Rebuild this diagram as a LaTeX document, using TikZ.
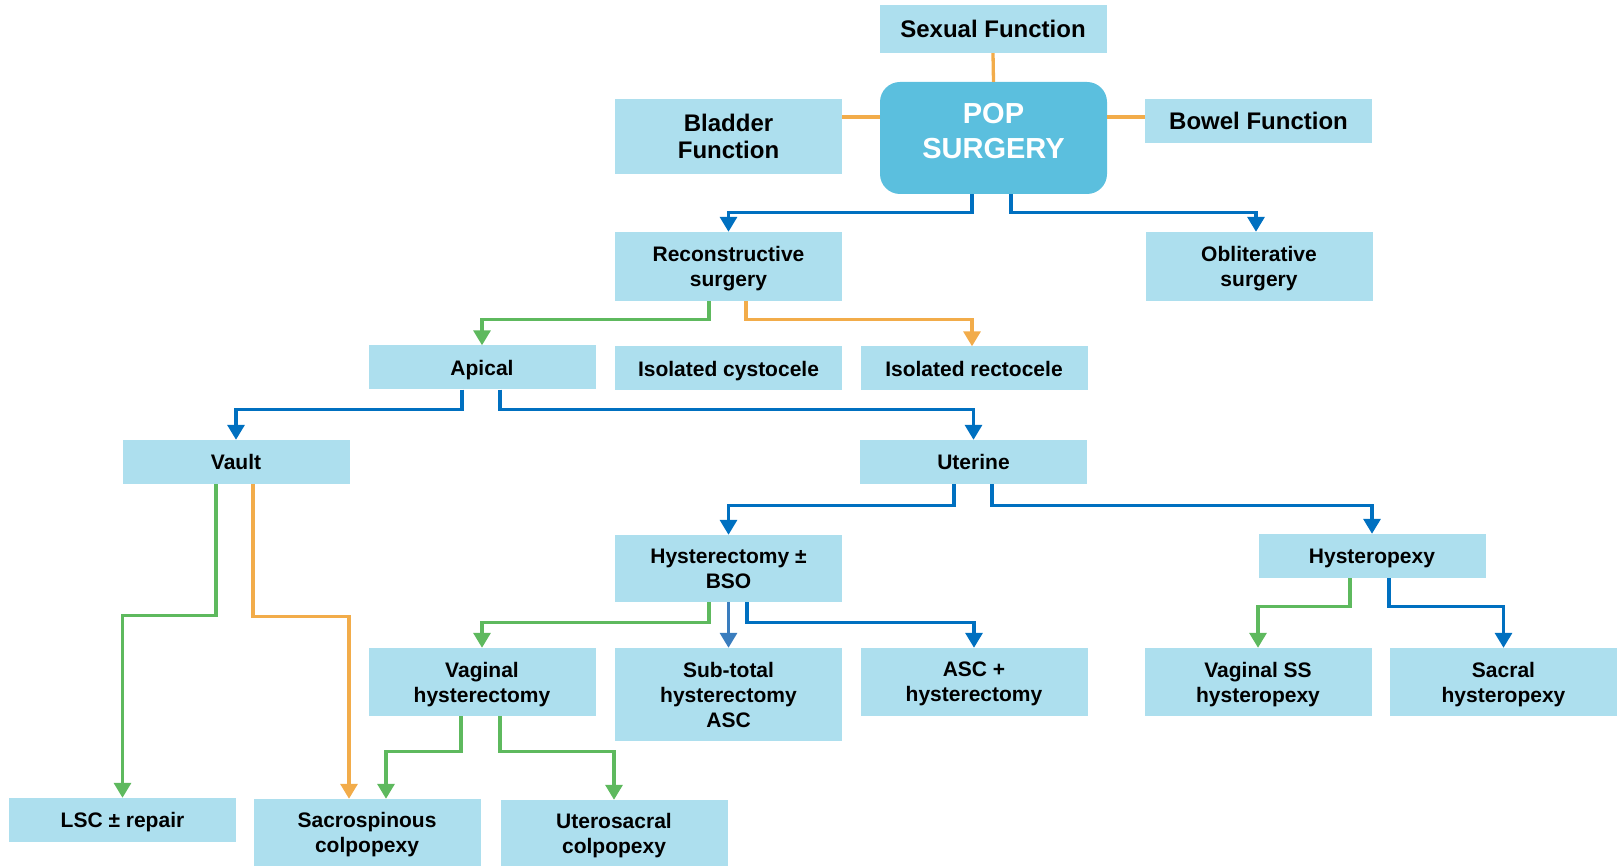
\documentclass[tikz,border=0pt]{standalone}
\usepackage{fontspec}
\setmainfont{Liberation Sans}
\usetikzlibrary{arrows.meta}

\definecolor{boxblue}{HTML}{ADDFEE}
\definecolor{popblue}{HTML}{5BBFDE}
\definecolor{linkblue}{HTML}{0070C0}
\definecolor{linkgreen}{HTML}{5EB95E}
\definecolor{linkorange}{HTML}{F2AC4A}
\definecolor{linksteel}{HTML}{3A7DBE}

\tikzset{
  box/.style={fill=boxblue, minimum width=227pt, minimum height=44pt, inner sep=2pt, text depth=0pt,
    align=center, font=\fontsize{21}{25}\selectfont\bfseries},
  bigbox/.style={box, font=\fontsize{24}{27}\selectfont\bfseries},
  link/.style={line width=3.3pt, -{Triangle[width=17pt,length=15pt]}},
  bluelink/.style={link, linkblue},
  greenlink/.style={link, linkgreen},
  orangelink/.style={link, linkorange},
  steellink/.style={link, linksteel},
  tie/.style={line width=3.3pt, linkorange}
}

\begin{document}
\begin{tikzpicture}[x=1pt, y=-1pt]
      \useasboundingbox (0,0) rectangle (1620,866);
      \node[fill=popblue, rounded corners=20pt, minimum width=227pt, minimum height=112pt, align=center,
        text depth=14pt, text=white, font=\fontsize{29}{35}\selectfont\bfseries] (pop) at (993.5, 138) {POP\\SURGERY};
      \node[bigbox, minimum height=48pt] (sex) at (993, 29) {Sexual Function};
      \node[bigbox, minimum height=75pt] (blad) at (728.5, 136.5) {Bladder\\Function};
      \node[bigbox] (bowel) at (1258.5, 121) {Bowel Function};
      \node[box, minimum height=69pt] (recon) at (728.5, 266.5) {Reconstructive\\surgery};
      \node[box, minimum height=69pt] (oblit) at (1259, 266.5) {Obliterative\\surgery};
      \node[box] (apical) at (482, 367.5) {Apical};
      \node[box] (cysto) at (728.5, 368.5) {Isolated cystocele};
      \node[box] (recto) at (974, 368.5) {Isolated rectocele};
      \node[box] (vault) at (236, 462) {Vault};
      \node[box] (uter) at (973.5, 462) {Uterine};
      \node[box, minimum height=67pt] (hyst) at (728.5, 568.5) {Hysterectomy ±\\BSO};
      \node[box] (hpexy) at (1372, 556) {Hysteropexy};
      \node[box, minimum height=68pt] (vhyst) at (482, 682) {Vaginal\\hysterectomy};
      \node[box, minimum height=93pt] (subt) at (728.5, 694.5) {Sub-total\\hysterectomy\\ASC};
      \node[box, minimum height=68pt] (ascp) at (974, 682) {ASC +\\hysterectomy};
      \node[box, minimum height=68pt] (vss) at (1258, 682) {Vaginal SS\\hysteropexy};
      \node[box, minimum height=68pt] (sacr) at (1503.5, 682) {Sacral\\hysteropexy};
      \node[box] (lsc) at (122.5, 820) {LSC ± repair};
      \node[box, minimum height=67pt] (sacsp) at (367, 832.5) {Sacrospinous\\colpopexy};
      \node[box, minimum height=66pt] (utsac) at (614, 833) {Uterosacral\\colpopexy};
      \draw[tie] (sex.south) -- (pop.north);
      \draw[tie] (blad.east |- 0,117) -- (pop.west |- 0,117);
      \draw[tie] (pop.east |- 0,117) -- (bowel.west |- 0,117);
      \draw[bluelink] ([xshift=-21.5pt]pop.south) -- ++(0,18) -| (recon.north);
      \draw[bluelink] ([xshift=17.5pt]pop.south) -- ++(0,18) -| ([xshift=-3pt]oblit.north);
      \draw[greenlink] ([xshift=-19.5pt]recon.south) -- ++(0,18) -| (apical.north);
      \draw[orangelink] ([xshift=17.5pt]recon.south) -- ++(0,18) -| ([xshift=-2pt]recto.north);
      \draw[bluelink] ([xshift=-20pt]apical.south) -- ++(0,20) -| (vault.north);
      \draw[bluelink] ([xshift=18pt]apical.south) -- ++(0,20) -| (uter.north);
      \draw[greenlink] ([xshift=-20pt]vault.south) -- ++(0,131) -| (lsc.north);
      \draw[orangelink] ([xshift=17pt]vault.south) -- ++(0,132) -| ([xshift=-18pt]sacsp.north);
      \draw[bluelink] ([xshift=-19.5pt]uter.south) -- ++(0,21) -| (hyst.north);
      \draw[bluelink] ([xshift=18.5pt]uter.south) -- ++(0,21) -| (hpexy.north);
      \draw[greenlink] ([xshift=-19.5pt]hyst.south) -- ++(0,20) -| (vhyst.north);
      \draw[steellink] (hyst.south) -- (subt.north);
      \draw[bluelink] ([xshift=18.5pt]hyst.south) -- ++(0,20) -| (ascp.north);
      \draw[greenlink] ([xshift=-22pt]hpexy.south) -- ++(0,28) -| (vss.north);
      \draw[bluelink] ([xshift=17pt]hpexy.south) -- ++(0,28) -| (sacr.north);
      \draw[greenlink] ([xshift=-21pt]vhyst.south) -- ++(0,35) -| ([xshift=19pt]sacsp.north);
      \draw[greenlink] ([xshift=18pt]vhyst.south) -- ++(0,35) -| (utsac.north);
    \end{tikzpicture}
\end{document}
